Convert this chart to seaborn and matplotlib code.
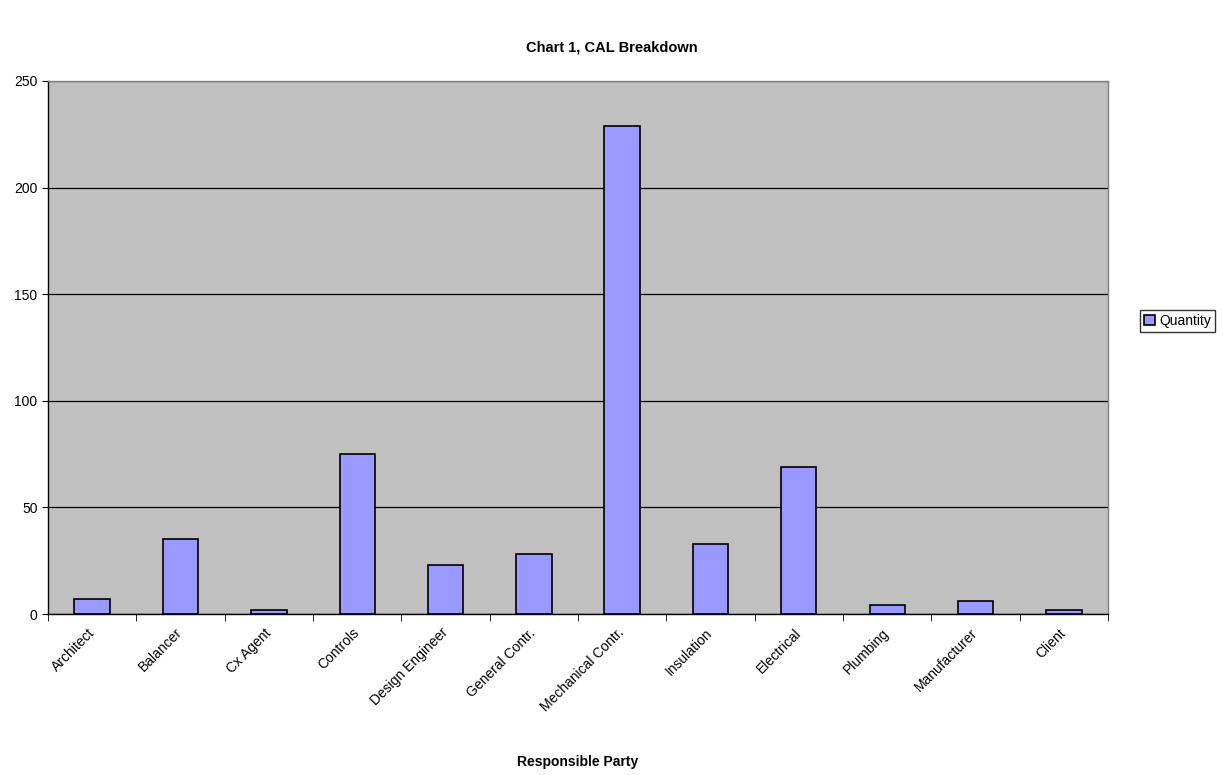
import matplotlib
matplotlib.use("Agg")
import matplotlib.pyplot as plt
import matplotlib.transforms as mtransforms
import seaborn as sns
import pandas as pd

# data
parties = ["Architect", "Balancer", "Cx Agent", "Controls", "Design Engineer",
           "General Contr.", "Mechanical Contr.", "Insulation", "Electrical",
           "Plumbing", "Manufacturer", "Client"]
quantity = [7, 35, 2, 75, 23, 28, 229, 33, 69, 4, 6, 2]

df = pd.DataFrame({"party": parties, "Quantity": quantity})

sns.set_style("white")
plt.rcParams["font.family"] = ["Liberation Sans", "DejaVu Sans"]
plt.rcParams["text.color"] = "black"
plt.rcParams["xtick.color"] = "black"
plt.rcParams["ytick.color"] = "black"
plt.rcParams["axes.labelcolor"] = "black"

fig = plt.figure(figsize=(12.23, 7.75), dpi=100)
ax = fig.add_axes([48 / 1223, 1 - 614 / 775, (1108 - 48) / 1223, (614 - 81) / 775])

sns.barplot(data=df, x="party", y="Quantity", color="#9999FF", width=0.4,
            edgecolor="black", linewidth=1.2, saturation=1, ax=ax)

ax.set_facecolor("#C0C0C0")
ax.set_ylim(0, 250)
ax.set_xlim(-0.5, len(parties) - 0.5)
ax.set_yticks([0, 50, 100, 150, 200, 250])
ax.yaxis.grid(True, color="black", linewidth=0.9)
ax.set_axisbelow(True)
ax.tick_params(axis="both", labelsize=10, length=4, direction="out",
               left=True, bottom=False, color="black")
ax.tick_params(axis="x", pad=8)
ax.set_xticks([i - 0.5 for i in range(len(parties) + 1)], minor=True)
ax.tick_params(axis="x", which="minor", bottom=True, length=5, color="black")
ax.set_xticks(range(len(parties)))
ax.set_xticklabels(parties, rotation=45, ha="right", va="center",
                   rotation_mode="anchor")
shift = mtransforms.ScaledTranslation(0, 0, fig.dpi_scale_trans)
for lab in ax.get_xticklabels():
    lab.set_transform(lab.get_transform() + shift)
for s in ["left", "bottom"]:
    ax.spines[s].set_color("black")
    ax.spines[s].set_linewidth(1)
for s in ["top", "right"]:
    ax.spines[s].set_color("#808080")
    ax.spines[s].set_linewidth(1)

ax.set_ylabel("")
ax.set_xlabel("Responsible Party", fontsize=10, fontweight="bold", labelpad=29)
fig.text(0.5, 1 - 47 / 775, "Chart 1, CAL Breakdown", ha="center", va="center",
         fontsize=10.5, fontweight="bold")

handle = ax.patches[0]
leg = fig.legend([handle], ["Quantity"], loc="center left",
                 bbox_to_anchor=(1140 / 1223, 1 - 321 / 775), fontsize=10,
                 frameon=True, fancybox=False, handlelength=0.8,
                 handleheight=0.8, handletextpad=0.3, borderpad=0.3,
                 borderaxespad=0)
leg.get_frame().set_edgecolor("black")
leg.get_frame().set_linewidth(1)

fig.savefig("out.png", dpi=100)
